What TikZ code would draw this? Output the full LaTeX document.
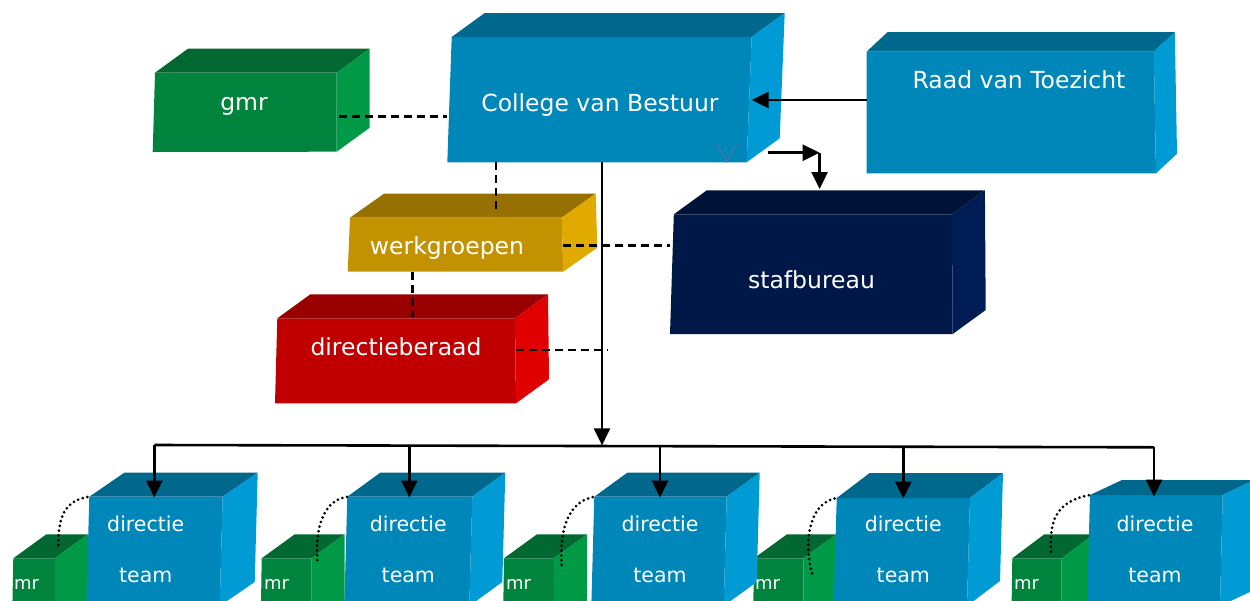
\documentclass[tikz,border=0pt]{standalone}
\usepackage{fontspec}
\setmainfont{DejaVu Sans}
\usetikzlibrary{calc,arrows.meta}
\definecolor{bfront}{HTML}{0087B9}
\definecolor{btop}{HTML}{00688C}
\definecolor{bside}{HTML}{009BD4}
\definecolor{gfront}{HTML}{00843D}
\definecolor{gtop}{HTML}{006830}
\definecolor{gside}{HTML}{009A46}
\definecolor{yfront}{HTML}{C39200}
\definecolor{ytop}{HTML}{967000}
\definecolor{yside}{HTML}{E1AA00}
\definecolor{rfront}{HTML}{C00000}
\definecolor{rtop}{HTML}{990000}
\definecolor{rside}{HTML}{E00000}
\definecolor{nfront}{HTML}{001848}
\definecolor{ntop}{HTML}{001238}
\definecolor{nside}{HTML}{001C54}
\definecolor{vmark}{HTML}{5B6FA8}
\tikzset{
  blue front/.style={fill=bfront}, blue top/.style={fill=btop}, blue side/.style={fill=bside},
  green front/.style={fill=gfront}, green top/.style={fill=gtop}, green side/.style={fill=gside},
  gold front/.style={fill=yfront}, gold top/.style={fill=ytop}, gold side/.style={fill=yside},
  red front/.style={fill=rfront}, red top/.style={fill=rtop}, red side/.style={fill=rside},
  navy front/.style={fill=nfront}, navy top/.style={fill=ntop}, navy side/.style={fill=nside},
  conn/.style={line width=2.6pt, draw=black},
  arr/.style={conn, -{Triangle[length=17pt,width=16pt]}},
  dashconn/.style={line width=2.6pt, draw=black, dash pattern=on 8pt off 5pt},
  dotconn/.style={line width=3pt, draw=black, line cap=round, dash pattern=on 0pt off 4.8pt},
  lbl/.style={text=white, font=\fontsize{23.5}{28}\selectfont, inner sep=0pt, anchor=base},
  tlbl/.style={lbl, font=\fontsize{20.5}{24}\selectfont},
  mlbl/.style={lbl, font=\fontsize{18}{22}\selectfont, anchor=base west},
}
\newcommand\cubebox[7]{%
  \coordinate (#1-tl) at (#3);
  \coordinate (#1-tr) at (#4);
  \coordinate (#1-br) at (#5);
  \coordinate (#1-bl) at (#6);
  \fill[#2 front] (#1-tl) -- (#1-tr) -- (#1-br) -- (#1-bl) -- cycle;
  \fill[#2 top] (#1-tl) -- ($(#1-tl)+(#7)$) -- ($(#1-tr)+(#7)$) -- (#1-tr) -- cycle;
  \fill[#2 side] (#1-tr) -- ($(#1-tr)+(#7)$) -- ($(#1-br)+(#7)$) -- (#1-br) -- cycle;
}
\begin{document}
\begin{tikzpicture}[x=1pt,y=-1pt]
\useasboundingbox (0,0) rectangle (1250,600);
\clip (0,0) rectangle (1250,600);
% upper boxes
\cubebox{gmr}{green}{155,72.7}{336.7,72.7}{336.7,151.7}{152.7,152}{33,-24}
\cubebox{cvb}{blue}{451.7,37}{751.7,37}{746.7,162.3}{447.3,162.3}{33,-24}
\cubebox{rvt}{blue}{866.5,51.7}{1153.8,51.7}{1156,173.3}{866.5,173.3}{21,-19.5}
\cubebox{wg}{gold}{350,217.7}{561.7,217.7}{563.3,271.7}{347.7,271.7}{34,-24}
\cubebox{db}{red}{277.3,318.3}{515,318.3}{516,403.3}{275,403.3}{33,-24}
\cubebox{sb}{navy}{673.8,214.3}{951.9,214.3}{952.7,334}{670,334}{33,-24}
\node[lbl] (gmr) at (244,110) {gmr};
\node[lbl] (cvb) at (600,111) {College van Bestuur};
\node[lbl] (rvt) at (1019,88.3) {Raad van Toezicht};
\node[lbl] (wg) at (447,254) {werkgroepen};
\node[lbl] (db) at (396,355) {directieberaad};
\node[lbl] (sb) at (811.5,288.3) {stafbureau};
\draw[vmark, line width=1pt] (716.7,143.3) -- (726.7,161.7) -- (736.7,143.3);
% lower boxes
\cubebox{mr1}{green}{13.3,558.3}{55,558.3}{55,625}{12,625}{33,-24}
\cubebox{mr2}{green}{261.7,558.3}{311.7,558.3}{311.7,625}{260.7,625}{33,-24}
\cubebox{mr3}{green}{504,558.3}{554,558.3}{554,625}{503,625}{33,-24}
\cubebox{mr4}{green}{754,558.3}{803.3,558.3}{803.3,625}{753,625}{33,-24}
\cubebox{mr5}{green}{1012.3,558.3}{1061.7,558.3}{1061.7,625}{1011.3,625}{32,-24}
\cubebox{t1}{blue}{89.3,496.7}{222.7,496.7}{219.7,606}{86.3,606}{35,-24}
\cubebox{t2}{blue}{347.3,496.7}{472.3,496.7}{469.3,606}{344.3,606}{33,-24}
\cubebox{t3}{blue}{594.3,496.7}{726.7,496.7}{723.7,606}{591.3,606}{33,-24}
\cubebox{t4}{blue}{836.7,498}{970,498}{967,606}{833.7,606}{33,-25}
\cubebox{t5}{blue}{1090,495}{1222.7,495}{1220,606}{1087,606}{32,-15}
\foreach \i/\x/\m in {1/145.7/14, 2/408.3/264, 3/660/506, 4/903.3/755, 5/1155/1014}{
  \node[tlbl] (t\i-a) at (\x,531) {directie};
  \node[tlbl] (t\i-b) at (\x,582.7) {team};
  \node[mlbl] (mr\i) at (\m,589.3) {mr};
}
% connection points
\coordinate (gmr-o) at (339,116.7);
\coordinate (cvb-w) at (447,116.7);
\coordinate (cvb-s1) at (496,162.3);
\coordinate (wg-n) at (496,211.7);
\coordinate (wg-s) at (412.3,271.7);
\coordinate (db-n) at (412.3,316.7);
\coordinate (wg-e) at (563,245.7);
\coordinate (sb-w) at (670,245.7);
\coordinate (db-e) at (516,350);
\coordinate (trunk-db) at (608,350);
\coordinate (rvt-w) at (866.5,100);
\coordinate (cvb-e) at (751.7,100);
\coordinate (cvb-se) at (767.7,152.7);
\coordinate (elbow) at (819.6,152.7);
\coordinate (sb-n) at (819.6,189);
\coordinate (cvb-s) at (602,162.3);
\coordinate (bus) at (602,445.4);
\coordinate (hl1) at (154.3,445);
\coordinate (hl2) at (409.3,445.6);
\coordinate (hl3) at (660,446.2);
\coordinate (hl4) at (903.3,446.7);
\coordinate (hl5) at (1154,447.3);
\coordinate (t1-n) at (154.3,497.5);
\coordinate (t2-n) at (409.3,497.5);
\coordinate (t3-n) at (660,497.5);
\coordinate (t4-n) at (903.3,498.5);
\coordinate (t5-n) at (1154,496.5);
% dashed
\draw[dashconn] (gmr-o) -- (cvb-w);
\draw[dashconn] (cvb-s1) -- (wg-n);
\draw[dashconn] (wg-s) -- (db-n);
\draw[dashconn] (wg-e) -- (sb-w);
\draw[dashconn] (db-e) -- (trunk-db);
% solid
\draw[arr] (rvt-w) -- (cvb-e);
\draw[arr] (cvb-se) -- (elbow);
\draw[arr] (elbow) -- (sb-n);
\draw[arr] (cvb-s) -- (bus);
\draw[conn] (hl1) -- (hl5);
\foreach \i in {1,...,5}{\draw[arr] (hl\i) -- (t\i-n);}
% dotted
\draw[dotconn] (58.3,545) .. controls (58,512) and (68,500) .. (t1-tl);
\draw[dotconn] (317.3,560) .. controls (315,522) and (326,500) .. (t2-tl);
\draw[dotconn] (561.7,565) .. controls (559,522) and (572,501) .. (t3-tl);
\draw[dotconn] (812,573.3) .. controls (803,540) and (810,502) .. (t4-tl);
\draw[dotconn] (1051,551.7) .. controls (1049,518) and (1058,501) .. (t5-tl);
\end{tikzpicture}
\end{document}
